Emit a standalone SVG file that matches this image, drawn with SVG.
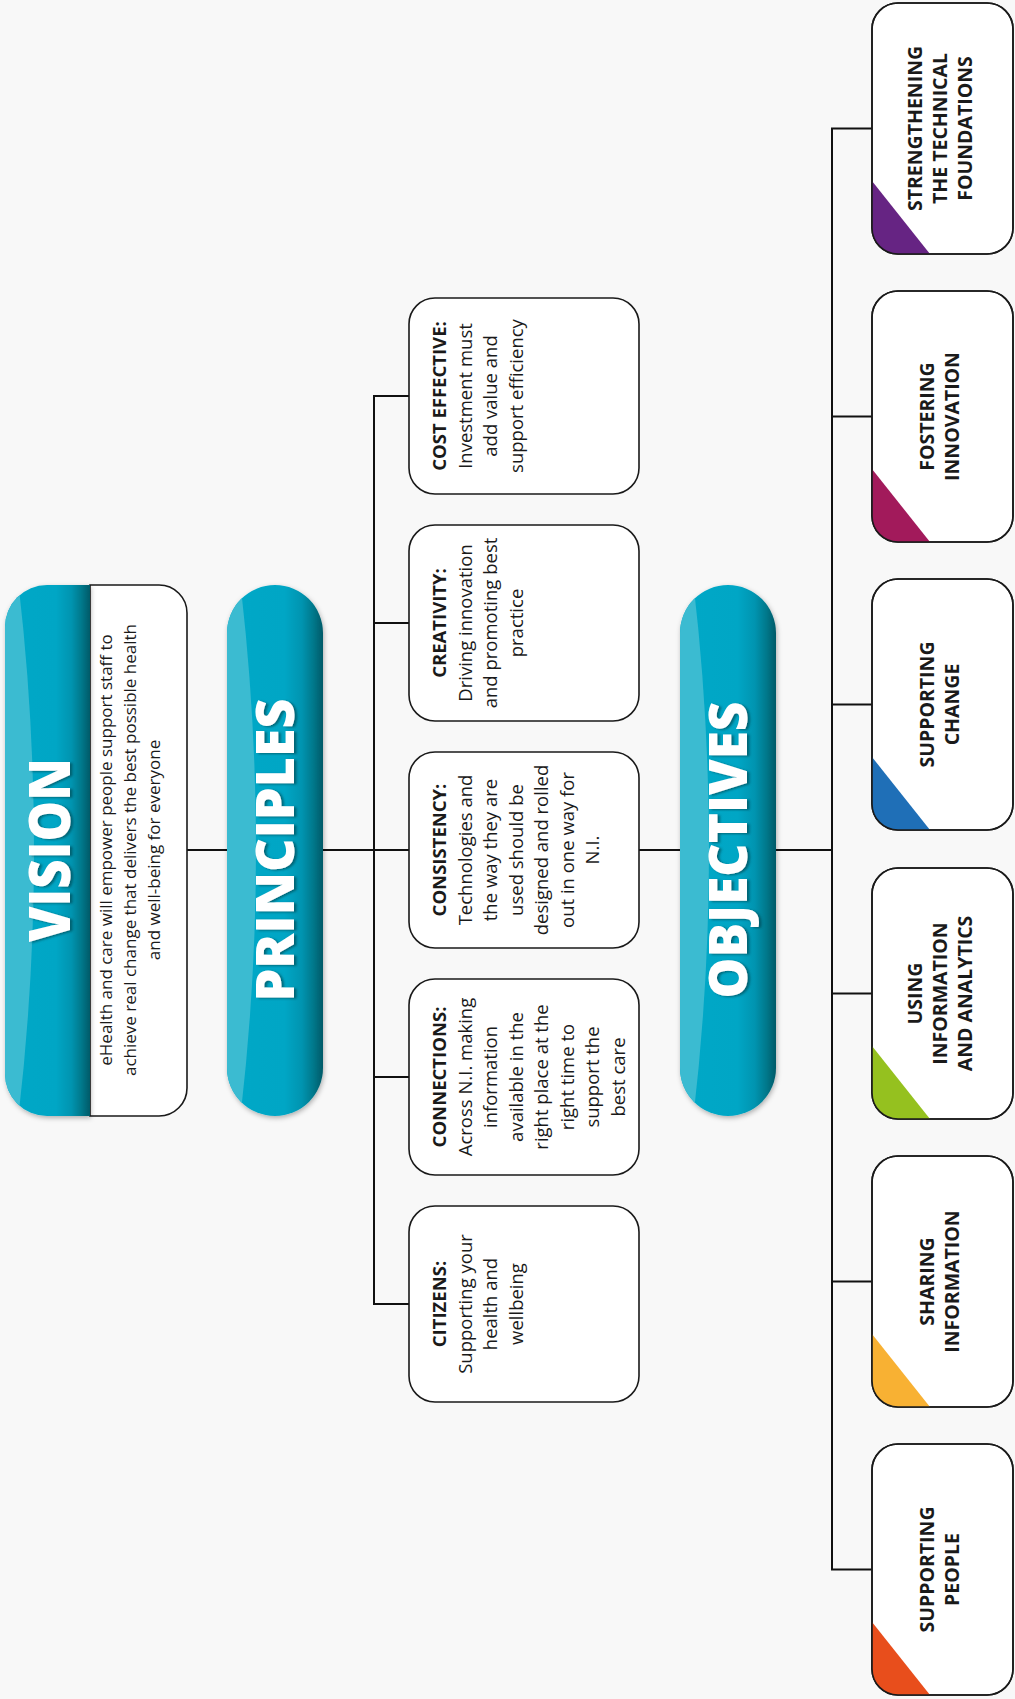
<svg xmlns="http://www.w3.org/2000/svg" width="1015" height="1699" viewBox="0 0 1015 1699">
  <defs>
    <style>
      .bg { fill: #f8f8f8; }
      .conn { stroke: #111; stroke-width: 2; fill: none; }
      .box { fill: #ffffff; stroke: #1a1a1a; stroke-width: 1.6; }
      .title { font-family: "Open Sans", "Liberation Sans", sans-serif; font-weight: 800; fill: #ffffff; text-anchor: middle; }
      .body { font-family: "Open Sans", "Liberation Sans", sans-serif; font-size: 18.5px; fill: #1a1a1a; text-anchor: middle; }
      .body .b { font-weight: 700; }
      .vis { font-family: "Open Sans", "Liberation Sans", sans-serif; font-size: 17px; fill: #1a1a1a; text-anchor: middle; }
      .obj { font-family: "Open Sans", "Liberation Sans", sans-serif; font-size: 19.5px; font-weight: 700; fill: #1a1a1a; text-anchor: middle; }
      .gloss { fill: #3bbbd1; }
    </style>
    <linearGradient id="pillGrad" x1="0" y1="0" x2="1" y2="0">
      <stop offset="0" stop-color="#05a8c7"/>
      <stop offset="0.6" stop-color="#00a6c5"/>
      <stop offset="0.78" stop-color="#0094b0"/>
      <stop offset="0.9" stop-color="#00788b"/>
      <stop offset="1" stop-color="#005a68"/>
    </linearGradient>
    <filter id="pillShadow" x="-20%" y="-5%" width="140%" height="110%">
      <feDropShadow dx="1" dy="2" stdDeviation="2.5" flood-color="#000" flood-opacity="0.3"/>
    </filter>
    <filter id="textShadow" x="-10%" y="-10%" width="130%" height="120%">
      <feDropShadow dx="2.5" dy="1" stdDeviation="1.2" flood-color="#003a44" flood-opacity="0.6"/>
    </filter>
    <clipPath id="clipVision">
      <path d="M90,585 H47 A42,42 0 0 0 5,627 V1074 A42,42 0 0 0 47,1116 H90 Z"/>
    </clipPath>
    <clipPath id="clipPrinciples">
      <rect x="227" y="585" width="96" height="531" rx="48" ry="48"/>
    </clipPath>
    <clipPath id="clipObjectives">
      <rect x="680" y="585" width="96" height="531" rx="48" ry="48"/>
    </clipPath>
    <clipPath id="objClip">
      <rect x="0" y="0" width="141" height="251" rx="26" ry="26"/>
    </clipPath>
  </defs>

  <rect class="bg" x="0" y="0" width="1015" height="1699"/>

  <!-- connectors -->
  <g id="connectors">
    <line class="conn" x1="187" y1="850" x2="227" y2="850"/>
    <line class="conn" x1="323" y1="850" x2="374" y2="850"/>
    <line class="conn" x1="374" y1="396" x2="374" y2="1304"/>
    <line class="conn" x1="373" y1="396" x2="409" y2="396"/>
    <line class="conn" x1="373" y1="623" x2="409" y2="623"/>
    <line class="conn" x1="374" y1="850" x2="409" y2="850"/>
    <line class="conn" x1="373" y1="1077" x2="409" y2="1077"/>
    <line class="conn" x1="373" y1="1304" x2="409" y2="1304"/>
    <line class="conn" x1="639" y1="850" x2="680" y2="850"/>
    <line class="conn" x1="776" y1="850" x2="832" y2="850"/>
    <line class="conn" x1="832" y1="128.5" x2="832" y2="1569.5"/>
    <line class="conn" x1="831" y1="128.5" x2="872" y2="128.5"/>
    <line class="conn" x1="831" y1="416.5" x2="872" y2="416.5"/>
    <line class="conn" x1="831" y1="704.5" x2="872" y2="704.5"/>
    <line class="conn" x1="831" y1="993.5" x2="872" y2="993.5"/>
    <line class="conn" x1="831" y1="1281.5" x2="872" y2="1281.5"/>
    <line class="conn" x1="831" y1="1569.5" x2="872" y2="1569.5"/>
  </g>

  <!-- vision -->
  <g id="vision">
    <path class="box" d="M90,585 H159 A28,28 0 0 1 187,613 V1088 A28,28 0 0 1 159,1116 H90 Z"/>
    <g filter="url(#pillShadow)">
      <path d="M90,585 H47 A42,42 0 0 0 5,627 V1074 A42,42 0 0 0 47,1116 H90 Z" fill="url(#pillGrad)"/>
    </g>
    <g clip-path="url(#clipVision)">
      <path class="gloss" d="M0,580 H18 Q50,850 18,1120 H0 Z"/>
    </g>
    <g filter="url(#textShadow)">
      <text class="title" transform="rotate(-90)" x="-850" y="70" font-size="56" textLength="184" lengthAdjust="spacingAndGlyphs">VISION</text>
    </g>
    <g transform="rotate(-90)">
      <text class="vis" x="-850" y="112">eHealth and care will empower people support staff to</text>
      <text class="vis" x="-850" y="136">achieve real change that delivers the best possible health</text>
      <text class="vis" x="-850" y="160">and well-being for everyone</text>
    </g>
  </g>

  <!-- principles -->
  <g id="principles">
    <g filter="url(#pillShadow)">
      <rect x="227" y="585" width="96" height="531" rx="48" ry="48" fill="url(#pillGrad)"/>
    </g>
    <g clip-path="url(#clipPrinciples)">
      <path class="gloss" d="M220,580 H240 Q272,850 240,1120 H220 Z"/>
    </g>
    <g filter="url(#textShadow)">
      <text class="title" transform="rotate(-90)" x="-850" y="294" font-size="53" textLength="303" lengthAdjust="spacingAndGlyphs">PRINCIPLES</text>
    </g>
  </g>

  <!-- principle boxes -->
  <g id="p-cost-effective">
    <rect class="box" x="409" y="298" width="230" height="196" rx="26" ry="26"/>
    <g class="body" transform="rotate(-90)">
      <text class="b" x="-396" y="446">COST EFFECTIVE:</text>
      <text x="-396" y="471.5">Investment must</text>
      <text x="-396" y="497">add value and</text>
      <text x="-396" y="522.5">support efficiency</text>
    </g>
  </g>
  <g id="p-creativity">
    <rect class="box" x="409" y="525" width="230" height="196" rx="26" ry="26"/>
    <g class="body" transform="rotate(-90)">
      <text class="b" x="-623" y="446">CREATIVITY:</text>
      <text x="-623" y="471.5">Driving innovation</text>
      <text x="-623" y="497">and promoting best</text>
      <text x="-623" y="522.5">practice</text>
    </g>
  </g>
  <g id="p-consistency">
    <rect class="box" x="409" y="752" width="230" height="196" rx="26" ry="26"/>
    <g class="body" transform="rotate(-90)">
      <text class="b" x="-850" y="446">CONSISTENCY:</text>
      <text x="-850" y="471.5">Technologies and</text>
      <text x="-850" y="497">the way they are</text>
      <text x="-850" y="522.5">used should be</text>
      <text x="-850" y="548">designed and rolled</text>
      <text x="-850" y="573.5">out in one way for</text>
      <text x="-850" y="599">N.I.</text>
    </g>
  </g>
  <g id="p-connections">
    <rect class="box" x="409" y="979" width="230" height="196" rx="26" ry="26"/>
    <g class="body" transform="rotate(-90)">
      <text class="b" x="-1077" y="446">CONNECTIONS:</text>
      <text x="-1077" y="471.5">Across N.I. making</text>
      <text x="-1077" y="497">information</text>
      <text x="-1077" y="522.5">available in the</text>
      <text x="-1077" y="548">right place at the</text>
      <text x="-1077" y="573.5">right time to</text>
      <text x="-1077" y="599">support the</text>
      <text x="-1077" y="624.5">best care</text>
    </g>
  </g>
  <g id="p-citizens">
    <rect class="box" x="409" y="1206" width="230" height="196" rx="26" ry="26"/>
    <g class="body" transform="rotate(-90)">
      <text class="b" x="-1304" y="446">CITIZENS:</text>
      <text x="-1304" y="471.5">Supporting your</text>
      <text x="-1304" y="497">health and</text>
      <text x="-1304" y="522.5">wellbeing</text>
    </g>
  </g>

  <!-- objectives -->
  <g id="objectives">
    <g filter="url(#pillShadow)">
      <rect x="680" y="585" width="96" height="531" rx="48" ry="48" fill="url(#pillGrad)"/>
    </g>
    <g clip-path="url(#clipObjectives)">
      <path class="gloss" d="M673,580 H693 Q725,850 693,1120 H673 Z"/>
    </g>
    <g filter="url(#textShadow)">
      <text class="title" transform="rotate(-90)" x="-850" y="747" font-size="53" textLength="297" lengthAdjust="spacingAndGlyphs">OBJECTIVES</text>
    </g>
  </g>

  <!-- objective boxes: white card with a coloured corner wedge -->
  <g id="o-technical-foundations" transform="translate(872,3)">
    <rect class="box" x="0" y="0" width="141" height="251" rx="26" ry="26"/>
    <polygon clip-path="url(#objClip)" points="0,178 58,251 0,251" fill="#662483"/>
    <rect x="0" y="0" width="141" height="251" rx="26" ry="26" fill="none" stroke="#1a1a1a" stroke-width="1.6"/>
    <g class="obj" transform="rotate(-90)">
      <text x="-125.5" y="50">STRENGTHENING</text>
      <text x="-125.5" y="75">THE TECHNICAL</text>
      <text x="-125.5" y="100">FOUNDATIONS</text>
    </g>
  </g>
  <g id="o-fostering-innovation" transform="translate(872,291)">
    <rect class="box" x="0" y="0" width="141" height="251" rx="26" ry="26"/>
    <polygon clip-path="url(#objClip)" points="0,178 58,251 0,251" fill="#a21a5b"/>
    <rect x="0" y="0" width="141" height="251" rx="26" ry="26" fill="none" stroke="#1a1a1a" stroke-width="1.6"/>
    <g class="obj" transform="rotate(-90)">
      <text x="-125.5" y="62">FOSTERING</text>
      <text x="-125.5" y="87">INNOVATION</text>
    </g>
  </g>
  <g id="o-supporting-change" transform="translate(872,579)">
    <rect class="box" x="0" y="0" width="141" height="251" rx="26" ry="26"/>
    <polygon clip-path="url(#objClip)" points="0,178 58,251 0,251" fill="#1f6fb7"/>
    <rect x="0" y="0" width="141" height="251" rx="26" ry="26" fill="none" stroke="#1a1a1a" stroke-width="1.6"/>
    <g class="obj" transform="rotate(-90)">
      <text x="-125.5" y="62">SUPPORTING</text>
      <text x="-125.5" y="87">CHANGE</text>
    </g>
  </g>
  <g id="o-information-analytics" transform="translate(872,868)">
    <rect class="box" x="0" y="0" width="141" height="251" rx="26" ry="26"/>
    <polygon clip-path="url(#objClip)" points="0,178 58,251 0,251" fill="#95c11f"/>
    <rect x="0" y="0" width="141" height="251" rx="26" ry="26" fill="none" stroke="#1a1a1a" stroke-width="1.6"/>
    <g class="obj" transform="rotate(-90)">
      <text x="-125.5" y="50">USING</text>
      <text x="-125.5" y="75">INFORMATION</text>
      <text x="-125.5" y="100">AND ANALYTICS</text>
    </g>
  </g>
  <g id="o-sharing-information" transform="translate(872,1156)">
    <rect class="box" x="0" y="0" width="141" height="251" rx="26" ry="26"/>
    <polygon clip-path="url(#objClip)" points="0,178 58,251 0,251" fill="#f8b133"/>
    <rect x="0" y="0" width="141" height="251" rx="26" ry="26" fill="none" stroke="#1a1a1a" stroke-width="1.6"/>
    <g class="obj" transform="rotate(-90)">
      <text x="-125.5" y="62">SHARING</text>
      <text x="-125.5" y="87">INFORMATION</text>
    </g>
  </g>
  <g id="o-supporting-people" transform="translate(872,1444)">
    <rect class="box" x="0" y="0" width="141" height="251" rx="26" ry="26"/>
    <polygon clip-path="url(#objClip)" points="0,178 58,251 0,251" fill="#e84e1c"/>
    <rect x="0" y="0" width="141" height="251" rx="26" ry="26" fill="none" stroke="#1a1a1a" stroke-width="1.6"/>
    <g class="obj" transform="rotate(-90)">
      <text x="-125.5" y="62">SUPPORTING</text>
      <text x="-125.5" y="87">PEOPLE</text>
    </g>
  </g>
</svg>
